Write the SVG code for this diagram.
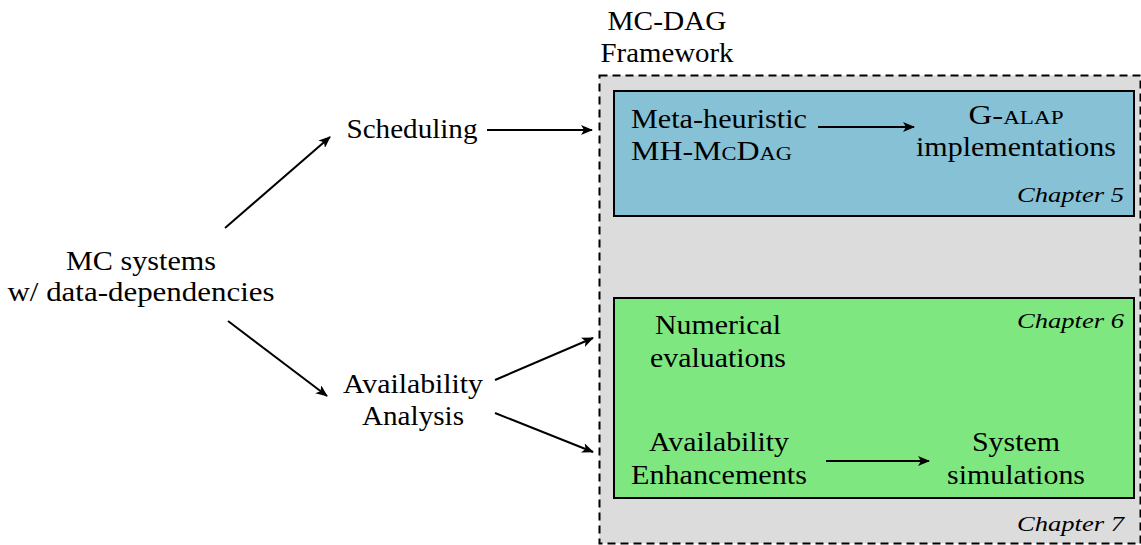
<svg xmlns="http://www.w3.org/2000/svg" width="1141" height="545" viewBox="0 0 1141 545">
<style>
text{font-family:"Liberation Serif","Times New Roman",serif;font-size:27px;fill:#000;text-anchor:middle}
.it{font-style:italic;font-size:22px;text-anchor:end}
.sc{font-variant:small-caps}
.edge{stroke:#000;stroke-width:2;fill:none;marker-end:url(#ah)}
</style>
<defs>
<marker id="ah" viewBox="0 0 12 10" refX="11" refY="5" markerWidth="12" markerHeight="10" markerUnits="userSpaceOnUse" orient="auto">
<path d="M0,0 L12,5 L0,10 L3,5 Z" fill="#000"/>
</marker>
</defs>
<g id="framework">
<rect x="599.5" y="75.5" width="541" height="468" fill="#dcdcdc" stroke="#000" stroke-width="2" stroke-dasharray="8,5"/>
<text x="667" y="30" textLength="119" lengthAdjust="spacingAndGlyphs">MC-DAG</text>
<text x="667" y="62" textLength="133" lengthAdjust="spacingAndGlyphs">Framework</text>
<text class="it" x="1124" y="531" textLength="107" lengthAdjust="spacingAndGlyphs">Chapter 7</text>
</g>
<g id="chapter5">
<rect x="614" y="91" width="520" height="125" fill="#87c1d6" stroke="#000" stroke-width="2"/>
<text class="it" x="1124" y="202" textLength="107" lengthAdjust="spacingAndGlyphs">Chapter 5</text>
</g>
<g id="chapter6">
<rect x="614" y="298" width="520" height="200" fill="#7fe77f" stroke="#000" stroke-width="2"/>
<text class="it" x="1124" y="328" textLength="107" lengthAdjust="spacingAndGlyphs">Chapter 6</text>
</g>
<g id="mc-systems">
<text x="141" y="270" textLength="150" lengthAdjust="spacingAndGlyphs">MC systems</text>
<text x="141" y="301" textLength="267" lengthAdjust="spacingAndGlyphs">w/ data-dependencies</text>
</g>
<g id="scheduling">
<text x="412" y="138" textLength="131" lengthAdjust="spacingAndGlyphs">Scheduling</text>
</g>
<g id="availability-analysis">
<text x="413" y="393" textLength="140" lengthAdjust="spacingAndGlyphs">Availability</text>
<text x="413" y="425" textLength="102" lengthAdjust="spacingAndGlyphs">Analysis</text>
</g>
<g id="meta-heuristic">
<text x="719" y="128" textLength="176" lengthAdjust="spacingAndGlyphs">Meta-heuristic</text>
<text x="711.5" y="160" class="sc" textLength="161" lengthAdjust="spacingAndGlyphs">MH-McDag</text>
</g>
<g id="g-alap">
<text x="1016" y="124" class="sc" textLength="95" lengthAdjust="spacingAndGlyphs">G-alap</text>
<text x="1016" y="156" textLength="200" lengthAdjust="spacingAndGlyphs">implementations</text>
</g>
<g id="numerical">
<text x="718" y="334" textLength="126" lengthAdjust="spacingAndGlyphs">Numerical</text>
<text x="718" y="367" textLength="136" lengthAdjust="spacingAndGlyphs">evaluations</text>
</g>
<g id="enhancements">
<text x="719" y="451" textLength="140" lengthAdjust="spacingAndGlyphs">Availability</text>
<text x="719" y="484" textLength="176" lengthAdjust="spacingAndGlyphs">Enhancements</text>
</g>
<g id="simulations">
<text x="1016" y="451" textLength="88" lengthAdjust="spacingAndGlyphs">System</text>
<text x="1016" y="484" textLength="138" lengthAdjust="spacingAndGlyphs">simulations</text>
</g>
<g id="connectors">
<line class="edge" x1="225" y1="228" x2="330" y2="137"/>
<line class="edge" x1="228" y1="321" x2="327" y2="396"/>
<line class="edge" x1="487" y1="130" x2="592" y2="130"/>
<line class="edge" x1="495" y1="380" x2="593" y2="338"/>
<line class="edge" x1="495" y1="413" x2="593" y2="452"/>
<line class="edge" x1="818" y1="127" x2="914" y2="127"/>
<line class="edge" x1="826" y1="461" x2="929" y2="461"/>
</g>
</svg>
